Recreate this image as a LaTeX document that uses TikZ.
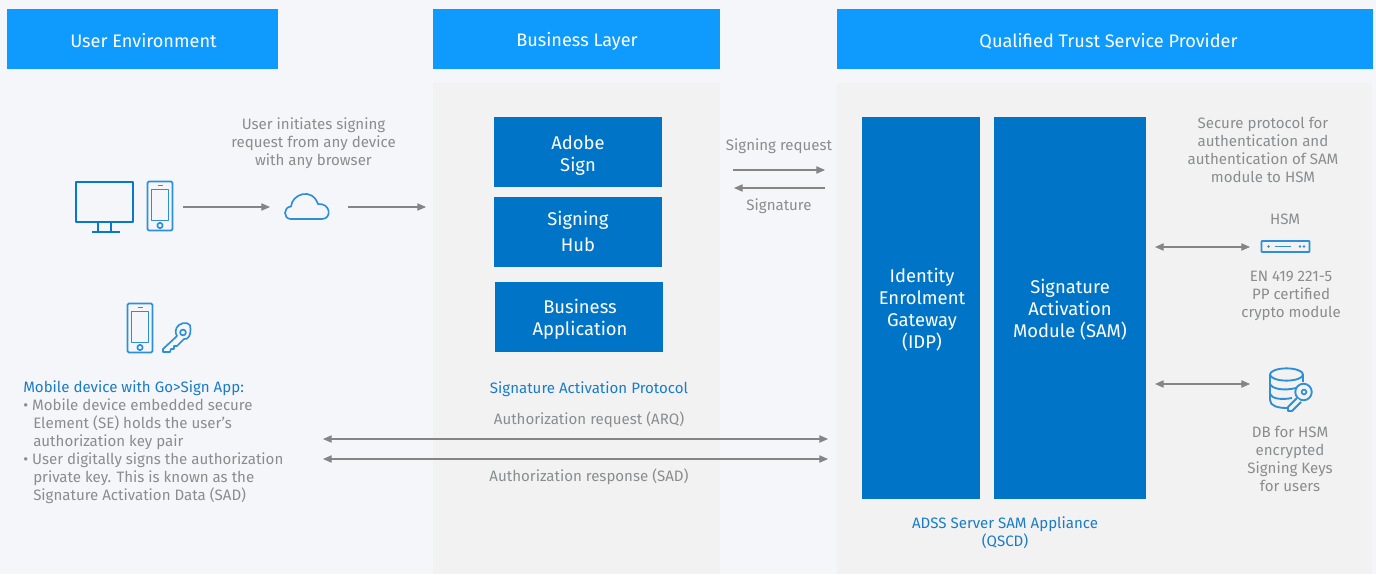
\documentclass[tikz,border=0pt]{standalone}
\usepackage{fontspec}
\setmainfont{Fira Sans}
\usetikzlibrary{arrows.meta}
\definecolor{pagebg}{HTML}{F5F6F9}
\definecolor{panelbg}{HTML}{F2F2F2}
\definecolor{headblue}{HTML}{0F9BFD}
\definecolor{boxblue}{HTML}{0075C7}
\definecolor{txtgray}{HTML}{8A8C8E}
\definecolor{arrgray}{HTML}{858585}
\definecolor{iconblue}{HTML}{2E8FD8}
\definecolor{linkblue}{HTML}{1A7CC8}
\tikzset{
  x=0.75pt,y=-0.75pt,
  headbox/.style={fill=headblue,inner sep=0pt,anchor=center},
  headtxt/.style={text=white,inner sep=0pt,font=\fontsize{13.6pt}{16pt}\selectfont,anchor=center},
  bluebox/.style={fill=boxblue,inner sep=0pt,anchor=center},
  boxtxt/.style={text=white,inner sep=0pt,align=center,font=\fontsize{13.8pt}{16.5pt}\selectfont,anchor=center},
  lbl/.style={text=txtgray,align=center,inner sep=0pt,font=\fontsize{11.3pt}{13.5pt}\selectfont},
  bluelbl/.style={text=linkblue,align=center,inner sep=0pt,font=\fontsize{11.3pt}{13.5pt}\selectfont},
  conn/.style={draw=arrgray,line width=0.8pt,-{Triangle[length=6.5pt,width=5.5pt]}},
  conn2/.style={draw=arrgray,line width=0.8pt,{Triangle[length=6.5pt,width=5.5pt]}-{Triangle[length=6.5pt,width=5.5pt]}},
  ic/.style={draw=iconblue,line width=1.25pt,line join=round,fill=none},
  icd/.style={draw=boxblue!85!iconblue,line width=2pt,line join=round,fill=none},
}
\newcommand{\phoneicon}[2]{%
  \begin{scope}[shift={(#1,#2)}]
    \draw[ic,rounded corners=1pt] (0,0) rectangle (25,49);
    \draw[ic] (4,8) rectangle (21,39);
    \draw[ic] (12.5,44) circle (2pt);
    \draw[ic] (10,4) -- (15,4);
  \end{scope}}
\begin{document}
\begin{tikzpicture}
\useasboundingbox (0,0) rectangle (1376,574);
\fill[pagebg] (0,0) rectangle (1376,574);
\fill[panelbg] (433,83) rectangle (720,574);
\fill[panelbg] (837,83) rectangle (1372,574);

\node[headbox,minimum width=271*0.75pt,minimum height=60*0.75pt] (h1) at (142.5,39) {};
\node[headbox,minimum width=287*0.75pt,minimum height=60*0.75pt] (h2) at (576.5,39) {};
\node[headbox,minimum width=536*0.75pt,minimum height=60*0.75pt] (h3) at (1105,39) {};
\node[headtxt] (h1t) at (143.5,40.5) {User Environment};
\node[headtxt] (h2t) at (577,41.5) {Business Layer};
\node[headtxt] (h3t) at (1108.5,41) {Qualified Trust Service Provider};

\node[bluebox,minimum width=168*0.75pt,minimum height=70*0.75pt] (adobe) at (578,152) {};
\node[bluebox,minimum width=168*0.75pt,minimum height=70*0.75pt] (hub) at (578,232) {};
\node[bluebox,minimum width=168*0.75pt,minimum height=70*0.75pt] (bapp) at (579,317) {};
\node[bluebox,minimum width=118*0.75pt,minimum height=382*0.75pt] (idp) at (921,308) {};
\node[bluebox,minimum width=152*0.75pt,minimum height=382*0.75pt] (sam) at (1070,308) {};
\node[boxtxt] (adobet) at (578,155.5) {Adobe\\Sign};
\node[boxtxt] (hubt) at (578,231) {Signing\\[3pt]Hub};
\node[boxtxt] (bappt) at (580,319) {Business\\Application};
\node[boxtxt] (idpt) at (922,310) {Identity\\Enrolment\\Gateway\\(IDP)};
\node[boxtxt] (samt) at (1070,310) {Signature\\Activation\\Module (SAM)};

\node[lbl] (t1) at (313.5,143.5) {User initiates signing\\request from any device\\with any browser};
\node[lbl] (t2) at (779,146.5) {Signing request};
\node[lbl] (t3) at (779,206.5) {Signature};
\node[lbl] (t4) at (1263,149.5) {Secure protocol for\\authentication and\\authentication of SAM\\module to HSM};
\node[lbl] (t5) at (1285,219) {HSM};
\node[lbl] (t6) at (1291,296) {EN 419 221-5\\PP certified\\crypto module};
\node[lbl] (t7) at (1290,458.5) {DB for HSM\\encrypted\\Signing Keys\\for users};
\node[bluelbl] (t8) at (589,389.5) {Signature Activation Protocol};
\node[lbl] (t9) at (589,419.5) {Authorization request (ARQ)};
\node[lbl] (t10) at (589,476.5) {Authorization response (SAD)};
\node[bluelbl] (t11) at (1005,533) {ADSS Server SAM Appliance\\(QSCD)};
\node[bluelbl,anchor=west] (t12) at (23,388.5) {Mobile device with Go>Sign App:};
\node[lbl,anchor=north west,align=left] (t13) at (23,398) {• Mobile device embedded secure\\\hspace*{7.5pt}Element (SE) holds the user's\\\hspace*{7.5pt}authorization key pair\\• User digitally signs the authorization\\\hspace*{7.5pt}private key. This is known as the\\\hspace*{7.5pt}Signature Activation Data (SAD)};

% icons
\draw[icd] (76,182) rectangle (133,222);
\draw[icd] (98,222) -- (98,232) (111,222) -- (111,232);
\draw[icd] (92,232) -- (120,232);
\phoneicon{147.5}{181.5}
\phoneicon{127.5}{303.5}
\draw[ic,line cap=round] (291,219) .. controls (283,219) and (283,207) .. (291,206.5) .. controls (292,194) and (312,187) .. (318,204) .. controls (331,203) and (332,219) .. (322,219) -- cycle;
\coordinate (a1s) at (183,207);
\coordinate (a1e) at (270,207);
\coordinate (a2s) at (348,207);
\coordinate (a2e) at (426,207);
\draw[conn] (a1s) -- (a1e);
\draw[conn] (a2s) -- (a2e);
% key
\draw[ic] (183,332.5) circle (2.2pt);
\draw[ic] (190.5,329) .. controls (192,323) and (184,321) .. (179,325) .. controls (175,328) and (175,333) .. (177,336) -- (163,349) -- (163,352) -- (170,352) -- (171,349) -- (174,349) -- (174,346) -- (177,346) -- (184,339) .. controls (188,340) and (191,335) .. (190.5,329) -- cycle;

\coordinate (sr1) at (733,170);
\coordinate (sr2) at (825,170);
\coordinate (sg1) at (825,188);
\coordinate (sg2) at (734,188);
\draw[conn] (sr1) -- (sr2);
\draw[conn] (sg1) -- (sg2);

\coordinate (ar1) at (323,439);
\coordinate (ar2) at (828,439);
\coordinate (ar3) at (323,459);
\coordinate (ar4) at (828,459);
\draw[conn2] (ar1) -- (ar2);
\draw[conn2] (ar3) -- (ar4);

\coordinate (h1a) at (1155,247);
\coordinate (h1b) at (1250,247);
\coordinate (d1a) at (1155,384);
\coordinate (d1b) at (1250,384);
\draw[conn2] (h1a) -- (h1b);
\draw[conn2] (d1a) -- (d1b);

% HSM icon
\draw[ic,line width=1.4pt,rounded corners=0.5pt] (1261.5,241) rectangle (1309.5,252);
\draw[ic] (1275,246.5) -- (1291,246.5);
\fill[iconblue] (1268.5,246.5) circle (1pt) (1300,246.5) circle (1pt) (1304,246.5) circle (1pt);

% DB icon
\begin{scope}[shift={(1270,368)}]
\draw[ic,line width=1.4pt] (16.5,6.5) ellipse (12.4pt and 4.6pt);
\draw[ic,line width=1.4pt] (0,6.5) -- (0,32) .. controls (0,38) and (8,40) .. (17,40);
\draw[ic,line width=1.4pt] (33,6.5) -- (33,14);
\draw[ic,line width=1.4pt] (0,16) .. controls (2,21) and (14,23) .. (26,20);
\draw[ic,line width=1.4pt] (0,26) .. controls (2,31) and (12,32) .. (22,30);
\draw[ic,line width=1.4pt,fill=panelbg] (33.5,24) circle (6.2pt);
\draw[ic] (34,24) circle (1.8pt);
\draw[ic,line width=1.4pt,fill=panelbg] (27,30) -- (18,39) -- (18,43) -- (22,43) -- (31,34);
\end{scope}
\end{tikzpicture}
\end{document}
